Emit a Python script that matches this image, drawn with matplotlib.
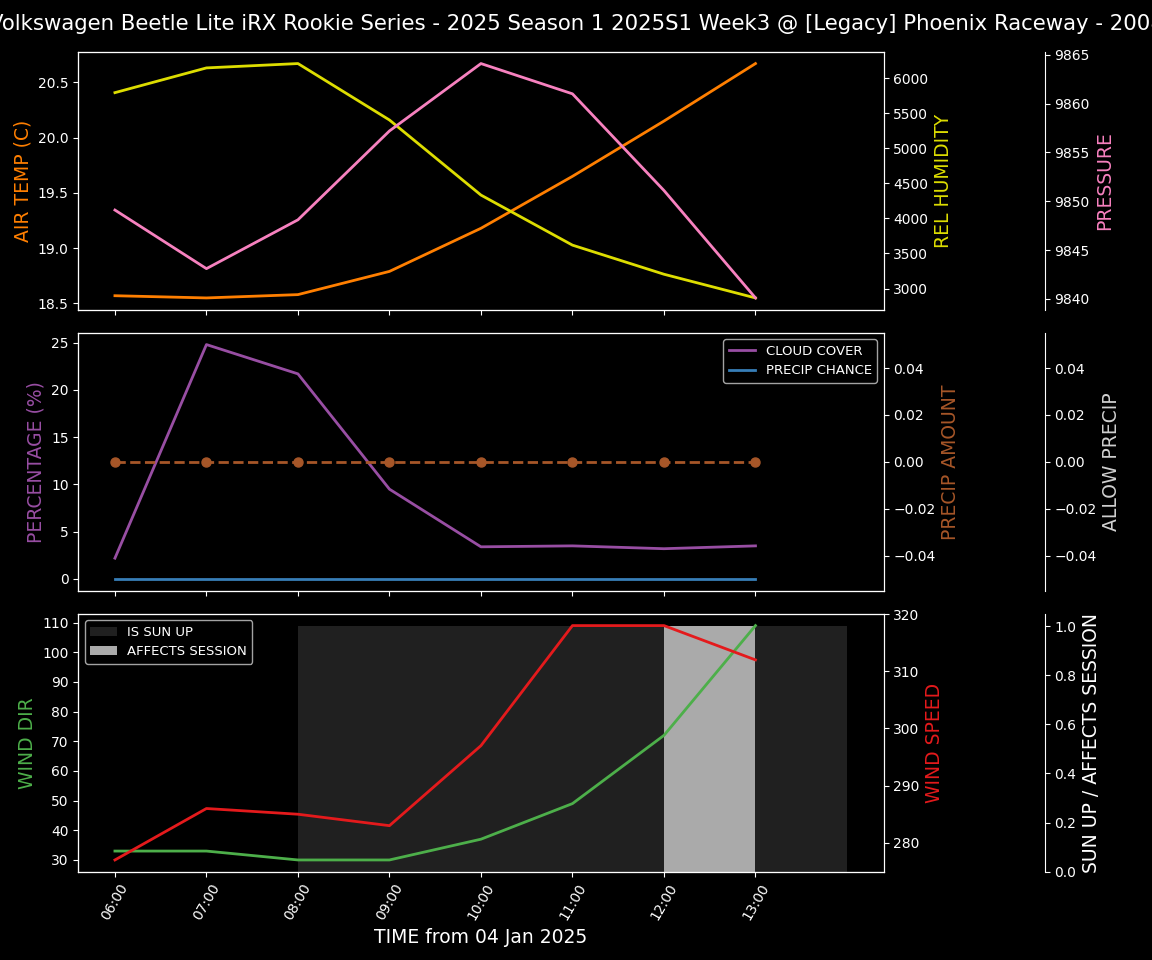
import numpy as np
import pandas as pd
import matplotlib
matplotlib.use("Agg")
import matplotlib.pyplot as plt
import matplotlib.dates as mdates

# hourly forecast for the session
times = pd.date_range("2025-01-04 06:00", periods=8, freq="h")

air_temp = [18.57, 18.55, 18.58, 18.79, 19.18, 19.65, 20.15, 20.67]
rel_humidity = [5794, 6147, 6209, 5404, 4333, 3619, 3204, 2866]
pressure = [9849.1, 9843.1, 9848.1, 9857.2, 9864.1, 9861.0, 9851.1, 9840.1]

cloud_cover = [2.2, 24.8, 21.7, 9.5, 3.4, 3.5, 3.2, 3.5]
precip_chance = [0, 0, 0, 0, 0, 0, 0, 0]
precip_amount = [0, 0, 0, 0, 0, 0, 0, 0]
allow_precip = [0, 0, 0, 0, 0, 0, 0, 0]

wind_dir = [33, 33, 30, 30, 37, 49, 72, 109]
wind_speed = [277, 286, 285, 283, 297, 318, 318, 312]
sun_up = [0, 0, 1, 1, 1, 1, 1, 1]
affects_session = [0, 0, 0, 0, 0, 0, 1, 0]

title = ("Volkswagen Beetle Lite iRX Rookie Series - 2025 Season 1 2025S1 Week3 "
         "@ [Legacy] Phoenix Raceway - 2008")

C_TEMP = "#ff7f00"
C_HUM = "#dddd00"
C_PRES = "#f781bf"
C_CLOUD = "#984ea3"
C_PCHANCE = "#377eb8"
C_PAMOUNT = "#a65628"
C_DIR = "#4daf4a"
C_SPEED = "#e41a1c"

plt.style.use("dark_background")
fig, axes = plt.subplots(3, 1, figsize=(11.52, 9.6), dpi=100, sharex=True)
fig.subplots_adjust(left=0.068, right=0.767, top=0.946, bottom=0.092, hspace=0.09)
fig.suptitle(title, fontsize=15.3, y=0.985)

LW = 2
LBL = 13.5
LEG = 9.5

# top panel: temperature / humidity / pressure
ax = axes[0]
ax.plot(times, air_temp, color=C_TEMP, lw=LW)
ax.set_ylabel("AIR TEMP (C)", color=C_TEMP, fontsize=LBL)
ax2 = ax.twinx()
ax2.plot(times, rel_humidity, color=C_HUM, lw=LW)
ax2.set_ylabel("REL HUMIDITY", color=C_HUM, fontsize=LBL)
ax3 = ax.twinx()
ax3.spines["right"].set_position(("axes", 1.2))
ax3.plot(times, pressure, color=C_PRES, lw=LW)
ax3.set_ylabel("PRESSURE", color=C_PRES, fontsize=LBL)

# middle panel: clouds / precip
ax = axes[1]
ax.plot(times, cloud_cover, color=C_CLOUD, lw=LW, label="CLOUD COVER")
ax.plot(times, precip_chance, color=C_PCHANCE, lw=LW, label="PRECIP CHANCE")
ax.set_ylabel("PERCENTAGE (%)", color=C_CLOUD, fontsize=LBL)
ax.legend(loc="upper right", fontsize=LEG)
ax2 = ax.twinx()
ax2.plot(times, precip_amount, "--o", color=C_PAMOUNT, lw=LW, markersize=6.5)
ax2.set_ylabel("PRECIP AMOUNT", color=C_PAMOUNT, fontsize=LBL)
ax3 = ax.twinx()
ax3.spines["right"].set_position(("axes", 1.2))
ax3.plot(times, allow_precip, linestyle="none")
ax3.set_ylabel("ALLOW PRECIP", color="#d0d0d0", fontsize=LBL)

# bottom panel: wind + sun / session
ax = axes[2]
ax3 = ax.twinx()
ax3.spines["right"].set_position(("axes", 1.2))
w = 1 / 24
ax3.bar(times, sun_up, width=w, align="edge", color="#202020", label="IS SUN UP")
ax3.bar(times, affects_session, width=w, align="edge", color="#aaaaaa",
        label="AFFECTS SESSION")
ax3.set_ylabel("SUN UP / AFFECTS SESSION", color="white", fontsize=LBL)
ax3.legend(loc="upper left", fontsize=LEG)

ax.plot(times, wind_dir, color=C_DIR, lw=LW)
ax.set_ylabel("WIND DIR", color=C_DIR, fontsize=LBL)
ax2 = ax.twinx()
ax2.plot(times, wind_speed, color=C_SPEED, lw=LW)
ax2.set_ylabel("WIND SPEED", color=C_SPEED, fontsize=LBL)

# keep lines above the bars
ax3.set_zorder(0)
ax.set_zorder(1)
ax2.set_zorder(2)
ax.patch.set_visible(False)

ax.set_xticks(times)
ax.xaxis.set_major_formatter(mdates.DateFormatter("%H:%M"))
for lab in ax.get_xticklabels():
    lab.set_rotation(60)
ax.set_xlabel("TIME from 04 Jan 2025", fontsize=LBL)

fig.savefig("out.png", dpi=100, facecolor="black")
